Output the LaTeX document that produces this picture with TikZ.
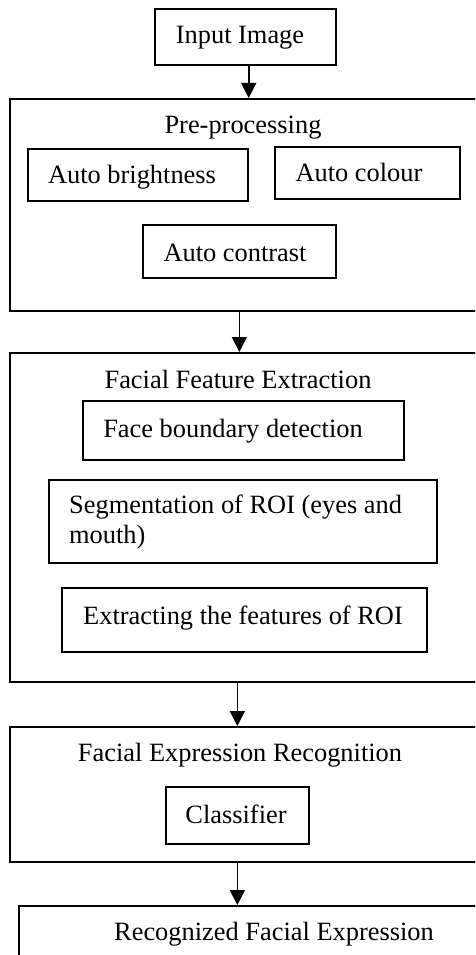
\documentclass[tikz,border=0pt]{standalone}
\usepackage{fontspec}
\setmainfont{Liberation Serif}
\usetikzlibrary{arrows.meta}
\begin{document}
\begin{tikzpicture}[x=1pt,y=-1pt,
  box/.style={draw, line width=1.7pt, rectangle, inner sep=0pt, anchor=north west},
  lbl/.style={font=\fontsize{26.4}{30}\selectfont, inner sep=0pt, anchor=base},
  flow/.style={line width=1.7pt, -{Triangle[width=15pt,length=15pt]}}]
\useasboundingbox (0,0) rectangle (475,955);
\clip (0,0) rectangle (475,955);
% boxes
\node[box, minimum width=181pt, minimum height=56pt] (input) at (154,8) {};
\node[box, minimum width=481pt, minimum height=212pt] (pre) at (9,98) {};
\node[box, minimum width=220pt, minimum height=52pt] (ab) at (27,148) {};
\node[box, minimum width=185pt, minimum height=52pt] (acol) at (274,146) {};
\node[box, minimum width=193pt, minimum height=53pt] (acon) at (142,224) {};
\node[box, minimum width=481pt, minimum height=329pt] (ffe) at (9,352) {};
\node[box, minimum width=321pt, minimum height=59pt] (fbd) at (82,400) {};
\node[box, minimum width=388pt, minimum height=83pt] (seg) at (48,479) {};
\node[box, minimum width=365pt, minimum height=64pt] (ext) at (61,587) {};
\node[box, minimum width=481pt, minimum height=135pt] (fer) at (9,726) {};
\node[box, minimum width=143pt, minimum height=57pt] (cls) at (165,786) {};
\node[box, minimum width=472pt, minimum height=80pt] (out) at (18,905) {};
% labels
\node[lbl] (tinput) at (240,44) {Input Image};
\node[lbl] (tpre) at (243,134) {Pre-processing};
\node[lbl] (tab) at (132,183) {Auto brightness};
\node[lbl] (tacol) at (359,181) {Auto colour};
\node[lbl] (tacon) at (235,261) {Auto contrast};
\node[lbl] (tffe) at (238,388) {Facial Feature Extraction};
\node[lbl] (tfbd) at (233,437) {Face boundary detection};
\node[lbl, anchor=base west, align=left] (tseg) at (69,543) {Segmentation of ROI (eyes and\\mouth)};
\node[lbl] (text) at (243,624) {Extracting the features of ROI};
\node[lbl] (tfer) at (240,761) {Facial Expression Recognition};
\node[lbl] (tcls) at (236,823) {Classifier};
\node[lbl] (tout) at (274,940) {Recognized Facial Expression};
% connectors
\draw[flow] (input.south -| ab.east) -- (pre.north -| ab.east);
\draw[flow] (pre.south -| acon.center) -- (ffe.north -| acon.center);
\draw[flow] (ffe.south -| cls.center) -- (fer.north -| cls.center);
\draw[flow] (fer.south -| cls.center) -- (out.north -| cls.center);
\end{tikzpicture}
\end{document}
